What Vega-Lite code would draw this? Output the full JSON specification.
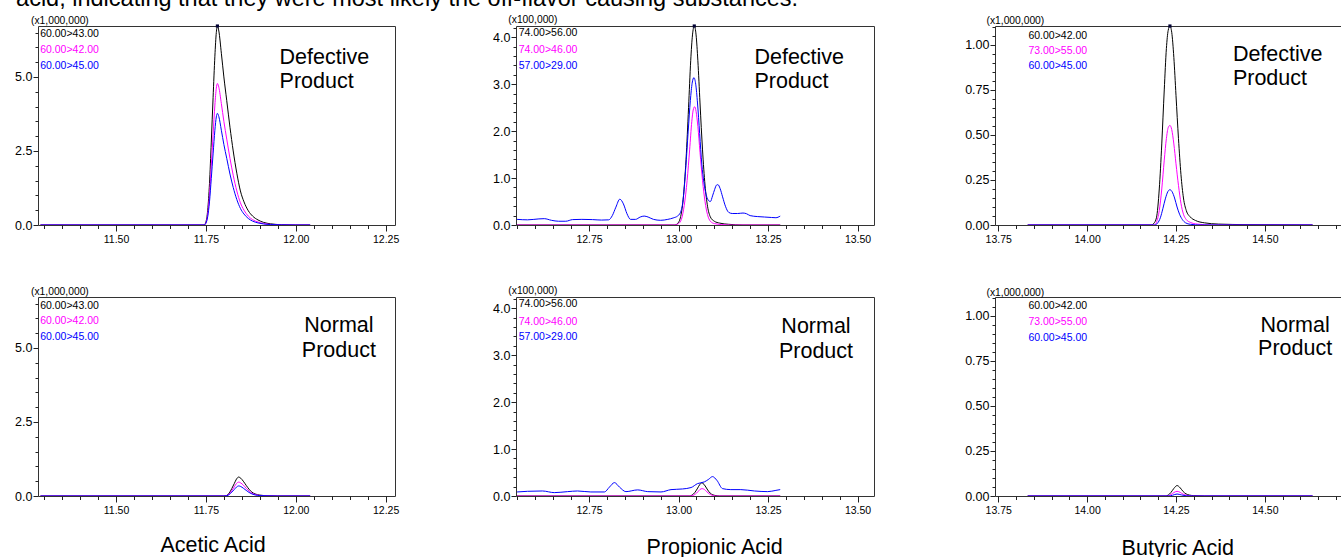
{
  "$schema": "https://vega.github.io/schema/vega-lite/v6.json",
  "autosize": {"type": "pad"},
  "padding": {"left": 14, "top": -14, "right": -11, "bottom": 0},
  "background": "white",
  "config": {
    "view": {"stroke": "#333333", "strokeWidth": 1},
    "axis": {"labelFont": "Liberation Sans, Arial, sans-serif", "labelColor": "#000000", "tickColor": "#222222", "domain": false, "grid": false, "labelOverlap": false, "labelFlush": false, "labelBound": false}
  },
  "columns": 3,
  "spacing": {"row": 72, "column": 121},
  "bounds": "flush",
  "datasets": {
    "chrom": [
      {"panel":"A1","ion":"k","t":11.29,"v":0},{"panel":"A1","ion":"k","t":11.5,"v":0},{"panel":"A1","ion":"k","t":11.745,"v":0},{"panel":"A1","ion":"k","t":11.75,"v":0.1},{"panel":"A1","ion":"k","t":11.755,"v":0.5},{"panel":"A1","ion":"k","t":11.76,"v":1.4},{"panel":"A1","ion":"k","t":11.765,"v":2.8},{"panel":"A1","ion":"k","t":11.77,"v":4.3},{"panel":"A1","ion":"k","t":11.775,"v":5.7},{"panel":"A1","ion":"k","t":11.779,"v":6.5},{"panel":"A1","ion":"k","t":11.782,"v":6.72},{"panel":"A1","ion":"k","t":11.786,"v":6.55},{"panel":"A1","ion":"k","t":11.793,"v":5.8},{"panel":"A1","ion":"k","t":11.8,"v":5.0},{"panel":"A1","ion":"k","t":11.808,"v":4.2},{"panel":"A1","ion":"k","t":11.817,"v":3.3},{"panel":"A1","ion":"k","t":11.826,"v":2.5},{"panel":"A1","ion":"k","t":11.836,"v":1.75},{"panel":"A1","ion":"k","t":11.846,"v":1.15},{"panel":"A1","ion":"k","t":11.856,"v":0.78},{"panel":"A1","ion":"k","t":11.868,"v":0.48},{"panel":"A1","ion":"k","t":11.88,"v":0.3},{"panel":"A1","ion":"k","t":11.895,"v":0.17},{"panel":"A1","ion":"k","t":11.91,"v":0.09},{"panel":"A1","ion":"k","t":11.93,"v":0.04},{"panel":"A1","ion":"k","t":11.96,"v":0.01},{"panel":"A1","ion":"k","t":12.0,"v":0},{"panel":"A1","ion":"k","t":12.04,"v":0},
      {"panel":"A1","ion":"m","t":11.29,"v":0},{"panel":"A1","ion":"m","t":11.5,"v":0},{"panel":"A1","ion":"m","t":11.745,"v":0},{"panel":"A1","ion":"m","t":11.75,"v":0.07},{"panel":"A1","ion":"m","t":11.755,"v":0.36},{"panel":"A1","ion":"m","t":11.76,"v":1.0},{"panel":"A1","ion":"m","t":11.765,"v":2.0},{"panel":"A1","ion":"m","t":11.77,"v":3.05},{"panel":"A1","ion":"m","t":11.775,"v":4.05},{"panel":"A1","ion":"m","t":11.779,"v":4.62},{"panel":"A1","ion":"m","t":11.782,"v":4.78},{"panel":"A1","ion":"m","t":11.786,"v":4.65},{"panel":"A1","ion":"m","t":11.793,"v":4.1},{"panel":"A1","ion":"m","t":11.8,"v":3.5},{"panel":"A1","ion":"m","t":11.808,"v":2.9},{"panel":"A1","ion":"m","t":11.817,"v":2.25},{"panel":"A1","ion":"m","t":11.826,"v":1.68},{"panel":"A1","ion":"m","t":11.836,"v":1.15},{"panel":"A1","ion":"m","t":11.846,"v":0.75},{"panel":"A1","ion":"m","t":11.856,"v":0.5},{"panel":"A1","ion":"m","t":11.868,"v":0.3},{"panel":"A1","ion":"m","t":11.88,"v":0.18},{"panel":"A1","ion":"m","t":11.895,"v":0.1},{"panel":"A1","ion":"m","t":11.91,"v":0.05},{"panel":"A1","ion":"m","t":11.93,"v":0.02},{"panel":"A1","ion":"m","t":11.96,"v":0.005},{"panel":"A1","ion":"m","t":12.0,"v":0},{"panel":"A1","ion":"m","t":12.04,"v":0},
      {"panel":"A1","ion":"b","t":11.29,"v":0},{"panel":"A1","ion":"b","t":11.5,"v":0},{"panel":"A1","ion":"b","t":11.745,"v":0},{"panel":"A1","ion":"b","t":11.75,"v":0.06},{"panel":"A1","ion":"b","t":11.755,"v":0.28},{"panel":"A1","ion":"b","t":11.76,"v":0.78},{"panel":"A1","ion":"b","t":11.765,"v":1.57},{"panel":"A1","ion":"b","t":11.77,"v":2.4},{"panel":"A1","ion":"b","t":11.775,"v":3.2},{"panel":"A1","ion":"b","t":11.779,"v":3.65},{"panel":"A1","ion":"b","t":11.782,"v":3.77},{"panel":"A1","ion":"b","t":11.786,"v":3.66},{"panel":"A1","ion":"b","t":11.793,"v":3.2},{"panel":"A1","ion":"b","t":11.8,"v":2.72},{"panel":"A1","ion":"b","t":11.808,"v":2.25},{"panel":"A1","ion":"b","t":11.817,"v":1.72},{"panel":"A1","ion":"b","t":11.826,"v":1.27},{"panel":"A1","ion":"b","t":11.836,"v":0.86},{"panel":"A1","ion":"b","t":11.846,"v":0.56},{"panel":"A1","ion":"b","t":11.856,"v":0.37},{"panel":"A1","ion":"b","t":11.868,"v":0.22},{"panel":"A1","ion":"b","t":11.88,"v":0.13},{"panel":"A1","ion":"b","t":11.895,"v":0.07},{"panel":"A1","ion":"b","t":11.91,"v":0.035},{"panel":"A1","ion":"b","t":11.93,"v":0.015},{"panel":"A1","ion":"b","t":11.96,"v":0.005},{"panel":"A1","ion":"b","t":12.0,"v":0},{"panel":"A1","ion":"b","t":12.04,"v":0},

      {"panel":"A2","ion":"k","t":11.29,"v":0},{"panel":"A2","ion":"k","t":11.5,"v":0},{"panel":"A2","ion":"k","t":11.8,"v":0},{"panel":"A2","ion":"k","t":11.808,"v":0.02},{"panel":"A2","ion":"k","t":11.815,"v":0.1},{"panel":"A2","ion":"k","t":11.822,"v":0.25},{"panel":"A2","ion":"k","t":11.829,"v":0.42},{"panel":"A2","ion":"k","t":11.835,"v":0.57},{"panel":"A2","ion":"k","t":11.841,"v":0.64},{"panel":"A2","ion":"k","t":11.847,"v":0.6},{"panel":"A2","ion":"k","t":11.854,"v":0.5},{"panel":"A2","ion":"k","t":11.862,"v":0.36},{"panel":"A2","ion":"k","t":11.87,"v":0.23},{"panel":"A2","ion":"k","t":11.878,"v":0.13},{"panel":"A2","ion":"k","t":11.887,"v":0.07},{"panel":"A2","ion":"k","t":11.9,"v":0.03},{"panel":"A2","ion":"k","t":11.92,"v":0.01},{"panel":"A2","ion":"k","t":11.95,"v":0},{"panel":"A2","ion":"k","t":12.04,"v":0},
      {"panel":"A2","ion":"m","t":11.29,"v":0},{"panel":"A2","ion":"m","t":11.5,"v":0},{"panel":"A2","ion":"m","t":11.8,"v":0},{"panel":"A2","ion":"m","t":11.808,"v":0.015},{"panel":"A2","ion":"m","t":11.815,"v":0.07},{"panel":"A2","ion":"m","t":11.822,"v":0.18},{"panel":"A2","ion":"m","t":11.829,"v":0.31},{"panel":"A2","ion":"m","t":11.835,"v":0.42},{"panel":"A2","ion":"m","t":11.841,"v":0.47},{"panel":"A2","ion":"m","t":11.847,"v":0.44},{"panel":"A2","ion":"m","t":11.854,"v":0.37},{"panel":"A2","ion":"m","t":11.862,"v":0.26},{"panel":"A2","ion":"m","t":11.87,"v":0.17},{"panel":"A2","ion":"m","t":11.878,"v":0.095},{"panel":"A2","ion":"m","t":11.887,"v":0.05},{"panel":"A2","ion":"m","t":11.9,"v":0.02},{"panel":"A2","ion":"m","t":11.92,"v":0.007},{"panel":"A2","ion":"m","t":11.95,"v":0},{"panel":"A2","ion":"m","t":12.04,"v":0},
      {"panel":"A2","ion":"b","t":11.29,"v":0},{"panel":"A2","ion":"b","t":11.5,"v":0},{"panel":"A2","ion":"b","t":11.8,"v":0},{"panel":"A2","ion":"b","t":11.808,"v":0.01},{"panel":"A2","ion":"b","t":11.815,"v":0.05},{"panel":"A2","ion":"b","t":11.822,"v":0.13},{"panel":"A2","ion":"b","t":11.829,"v":0.22},{"panel":"A2","ion":"b","t":11.835,"v":0.3},{"panel":"A2","ion":"b","t":11.841,"v":0.34},{"panel":"A2","ion":"b","t":11.847,"v":0.32},{"panel":"A2","ion":"b","t":11.854,"v":0.265},{"panel":"A2","ion":"b","t":11.862,"v":0.19},{"panel":"A2","ion":"b","t":11.87,"v":0.12},{"panel":"A2","ion":"b","t":11.878,"v":0.07},{"panel":"A2","ion":"b","t":11.887,"v":0.035},{"panel":"A2","ion":"b","t":11.9,"v":0.015},{"panel":"A2","ion":"b","t":11.92,"v":0.005},{"panel":"A2","ion":"b","t":11.95,"v":0},{"panel":"A2","ion":"b","t":12.04,"v":0},

      {"panel":"P1","ion":"k","t":12.549,"v":0},{"panel":"P1","ion":"k","t":12.8,"v":0},{"panel":"P1","ion":"k","t":12.99,"v":0},{"panel":"P1","ion":"k","t":12.997,"v":0.03},{"panel":"P1","ion":"k","t":13.005,"v":0.15},{"panel":"P1","ion":"k","t":13.013,"v":0.55},{"panel":"P1","ion":"k","t":13.021,"v":1.4},{"panel":"P1","ion":"k","t":13.028,"v":2.5},{"panel":"P1","ion":"k","t":13.034,"v":3.5},{"panel":"P1","ion":"k","t":13.039,"v":4.05},{"panel":"P1","ion":"k","t":13.044,"v":4.24},{"panel":"P1","ion":"k","t":13.049,"v":4.05},{"panel":"P1","ion":"k","t":13.054,"v":3.5},{"panel":"P1","ion":"k","t":13.06,"v":2.6},{"panel":"P1","ion":"k","t":13.067,"v":1.6},{"panel":"P1","ion":"k","t":13.074,"v":0.85},{"panel":"P1","ion":"k","t":13.081,"v":0.4},{"panel":"P1","ion":"k","t":13.089,"v":0.17},{"panel":"P1","ion":"k","t":13.1,"v":0.08},{"panel":"P1","ion":"k","t":13.115,"v":0.04},{"panel":"P1","ion":"k","t":13.14,"v":0.015},{"panel":"P1","ion":"k","t":13.18,"v":0},{"panel":"P1","ion":"k","t":13.284,"v":0},
      {"panel":"P1","ion":"m","t":12.549,"v":0},{"panel":"P1","ion":"m","t":12.8,"v":0},{"panel":"P1","ion":"m","t":12.99,"v":0},{"panel":"P1","ion":"m","t":13.0,"v":0.03},{"panel":"P1","ion":"m","t":13.008,"v":0.12},{"panel":"P1","ion":"m","t":13.016,"v":0.42},{"panel":"P1","ion":"m","t":13.024,"v":0.95},{"panel":"P1","ion":"m","t":13.031,"v":1.6},{"panel":"P1","ion":"m","t":13.037,"v":2.2},{"panel":"P1","ion":"m","t":13.041,"v":2.45},{"panel":"P1","ion":"m","t":13.045,"v":2.52},{"panel":"P1","ion":"m","t":13.049,"v":2.42},{"panel":"P1","ion":"m","t":13.054,"v":2.1},{"panel":"P1","ion":"m","t":13.06,"v":1.55},{"panel":"P1","ion":"m","t":13.067,"v":0.95},{"panel":"P1","ion":"m","t":13.074,"v":0.5},{"panel":"P1","ion":"m","t":13.081,"v":0.22},{"panel":"P1","ion":"m","t":13.089,"v":0.08},{"panel":"P1","ion":"m","t":13.1,"v":0.03},{"panel":"P1","ion":"m","t":13.12,"v":0.01},{"panel":"P1","ion":"m","t":13.15,"v":0},{"panel":"P1","ion":"m","t":13.284,"v":0},
      {"panel":"P1","ion":"b","t":12.549,"v":0.12},{"panel":"P1","ion":"b","t":12.578,"v":0.11},{"panel":"P1","ion":"b","t":12.61,"v":0.13},{"panel":"P1","ion":"b","t":12.625,"v":0.135},{"panel":"P1","ion":"b","t":12.645,"v":0.1},{"panel":"P1","ion":"b","t":12.665,"v":0.08},{"panel":"P1","ion":"b","t":12.685,"v":0.08},{"panel":"P1","ion":"b","t":12.704,"v":0.115},{"panel":"P1","ion":"b","t":12.73,"v":0.12},{"panel":"P1","ion":"b","t":12.76,"v":0.115},{"panel":"P1","ion":"b","t":12.785,"v":0.105},{"panel":"P1","ion":"b","t":12.805,"v":0.11},{"panel":"P1","ion":"b","t":12.815,"v":0.2},{"panel":"P1","ion":"b","t":12.825,"v":0.38},{"panel":"P1","ion":"b","t":12.836,"v":0.55},{"panel":"P1","ion":"b","t":12.846,"v":0.45},{"panel":"P1","ion":"b","t":12.856,"v":0.24},{"panel":"P1","ion":"b","t":12.866,"v":0.12},{"panel":"P1","ion":"b","t":12.88,"v":0.12},{"panel":"P1","ion":"b","t":12.893,"v":0.17},{"panel":"P1","ion":"b","t":12.904,"v":0.19},{"panel":"P1","ion":"b","t":12.915,"v":0.17},{"panel":"P1","ion":"b","t":12.93,"v":0.12},{"panel":"P1","ion":"b","t":12.95,"v":0.1},{"panel":"P1","ion":"b","t":12.97,"v":0.12},{"panel":"P1","ion":"b","t":12.985,"v":0.15},{"panel":"P1","ion":"b","t":12.997,"v":0.19},{"panel":"P1","ion":"b","t":13.005,"v":0.26},{"panel":"P1","ion":"b","t":13.013,"v":0.55},{"panel":"P1","ion":"b","t":13.02,"v":1.2},{"panel":"P1","ion":"b","t":13.027,"v":2.0},{"panel":"P1","ion":"b","t":13.033,"v":2.65},{"panel":"P1","ion":"b","t":13.038,"v":3.02},{"panel":"P1","ion":"b","t":13.043,"v":3.14},{"panel":"P1","ion":"b","t":13.048,"v":3.0},{"panel":"P1","ion":"b","t":13.053,"v":2.6},{"panel":"P1","ion":"b","t":13.059,"v":1.95},{"panel":"P1","ion":"b","t":13.065,"v":1.3},{"panel":"P1","ion":"b","t":13.071,"v":0.9},{"panel":"P1","ion":"b","t":13.078,"v":0.62},{"panel":"P1","ion":"b","t":13.084,"v":0.52},{"panel":"P1","ion":"b","t":13.089,"v":0.5},{"panel":"P1","ion":"b","t":13.095,"v":0.62},{"panel":"P1","ion":"b","t":13.101,"v":0.76},{"panel":"P1","ion":"b","t":13.106,"v":0.85},{"panel":"P1","ion":"b","t":13.11,"v":0.86},{"panel":"P1","ion":"b","t":13.116,"v":0.78},{"panel":"P1","ion":"b","t":13.123,"v":0.6},{"panel":"P1","ion":"b","t":13.131,"v":0.4},{"panel":"P1","ion":"b","t":13.14,"v":0.27},{"panel":"P1","ion":"b","t":13.15,"v":0.245},{"panel":"P1","ion":"b","t":13.165,"v":0.245},{"panel":"P1","ion":"b","t":13.18,"v":0.255},{"panel":"P1","ion":"b","t":13.19,"v":0.24},{"panel":"P1","ion":"b","t":13.2,"v":0.2},{"panel":"P1","ion":"b","t":13.22,"v":0.18},{"panel":"P1","ion":"b","t":13.24,"v":0.17},{"panel":"P1","ion":"b","t":13.26,"v":0.16},{"panel":"P1","ion":"b","t":13.272,"v":0.155},{"panel":"P1","ion":"b","t":13.284,"v":0.19},

      {"panel":"P2","ion":"k","t":12.549,"v":0},{"panel":"P2","ion":"k","t":13.03,"v":0},{"panel":"P2","ion":"k","t":13.038,"v":0.02},{"panel":"P2","ion":"k","t":13.045,"v":0.07},{"panel":"P2","ion":"k","t":13.052,"v":0.15},{"panel":"P2","ion":"k","t":13.059,"v":0.24},{"panel":"P2","ion":"k","t":13.065,"v":0.28},{"panel":"P2","ion":"k","t":13.071,"v":0.25},{"panel":"P2","ion":"k","t":13.078,"v":0.17},{"panel":"P2","ion":"k","t":13.085,"v":0.09},{"panel":"P2","ion":"k","t":13.092,"v":0.04},{"panel":"P2","ion":"k","t":13.1,"v":0.015},{"panel":"P2","ion":"k","t":13.115,"v":0},{"panel":"P2","ion":"k","t":13.284,"v":0},
      {"panel":"P2","ion":"m","t":12.549,"v":0},{"panel":"P2","ion":"m","t":13.03,"v":0},{"panel":"P2","ion":"m","t":13.04,"v":0.01},{"panel":"P2","ion":"m","t":13.047,"v":0.04},{"panel":"P2","ion":"m","t":13.054,"v":0.09},{"panel":"P2","ion":"m","t":13.06,"v":0.14},{"panel":"P2","ion":"m","t":13.066,"v":0.157},{"panel":"P2","ion":"m","t":13.072,"v":0.14},{"panel":"P2","ion":"m","t":13.079,"v":0.09},{"panel":"P2","ion":"m","t":13.086,"v":0.045},{"panel":"P2","ion":"m","t":13.094,"v":0.015},{"panel":"P2","ion":"m","t":13.105,"v":0},{"panel":"P2","ion":"m","t":13.284,"v":0},
      {"panel":"P2","ion":"b","t":12.549,"v":0.086},{"panel":"P2","ion":"b","t":12.578,"v":0.1},{"panel":"P2","ion":"b","t":12.62,"v":0.107},{"panel":"P2","ion":"b","t":12.653,"v":0.072},{"panel":"P2","ion":"b","t":12.69,"v":0.093},{"panel":"P2","ion":"b","t":12.718,"v":0.107},{"panel":"P2","ion":"b","t":12.755,"v":0.086},{"panel":"P2","ion":"b","t":12.793,"v":0.086},{"panel":"P2","ion":"b","t":12.807,"v":0.19},{"panel":"P2","ion":"b","t":12.821,"v":0.285},{"panel":"P2","ion":"b","t":12.835,"v":0.19},{"panel":"P2","ion":"b","t":12.853,"v":0.093},{"panel":"P2","ion":"b","t":12.886,"v":0.13},{"panel":"P2","ion":"b","t":12.914,"v":0.093},{"panel":"P2","ion":"b","t":12.951,"v":0.086},{"panel":"P2","ion":"b","t":12.979,"v":0.136},{"panel":"P2","ion":"b","t":13.011,"v":0.15},{"panel":"P2","ion":"b","t":13.035,"v":0.18},{"panel":"P2","ion":"b","t":13.053,"v":0.264},{"panel":"P2","ion":"b","t":13.072,"v":0.3},{"panel":"P2","ion":"b","t":13.083,"v":0.35},{"panel":"P2","ion":"b","t":13.095,"v":0.413},{"panel":"P2","ion":"b","t":13.107,"v":0.335},{"panel":"P2","ion":"b","t":13.123,"v":0.157},{"panel":"P2","ion":"b","t":13.146,"v":0.136},{"panel":"P2","ion":"b","t":13.174,"v":0.136},{"panel":"P2","ion":"b","t":13.212,"v":0.107},{"panel":"P2","ion":"b","t":13.249,"v":0.093},{"panel":"P2","ion":"b","t":13.272,"v":0.12},{"panel":"P2","ion":"b","t":13.284,"v":0.136},

      {"panel":"B1","ion":"k","t":13.833,"v":0},{"panel":"B1","ion":"k","t":14.18,"v":0},{"panel":"B1","ion":"k","t":14.188,"v":0.01},{"panel":"B1","ion":"k","t":14.195,"v":0.04},{"panel":"B1","ion":"k","t":14.203,"v":0.2},{"panel":"B1","ion":"k","t":14.21,"v":0.45},{"panel":"B1","ion":"k","t":14.217,"v":0.75},{"panel":"B1","ion":"k","t":14.223,"v":0.98},{"panel":"B1","ion":"k","t":14.228,"v":1.08},{"panel":"B1","ion":"k","t":14.233,"v":1.105},{"panel":"B1","ion":"k","t":14.238,"v":1.07},{"panel":"B1","ion":"k","t":14.244,"v":0.93},{"panel":"B1","ion":"k","t":14.25,"v":0.72},{"panel":"B1","ion":"k","t":14.257,"v":0.48},{"panel":"B1","ion":"k","t":14.264,"v":0.28},{"panel":"B1","ion":"k","t":14.271,"v":0.15},{"panel":"B1","ion":"k","t":14.279,"v":0.08},{"panel":"B1","ion":"k","t":14.29,"v":0.045},{"panel":"B1","ion":"k","t":14.305,"v":0.025},{"panel":"B1","ion":"k","t":14.33,"v":0.012},{"panel":"B1","ion":"k","t":14.37,"v":0.005},{"panel":"B1","ion":"k","t":14.45,"v":0.002},{"panel":"B1","ion":"k","t":14.634,"v":0},
      {"panel":"B1","ion":"m","t":13.833,"v":0},{"panel":"B1","ion":"m","t":14.19,"v":0},{"panel":"B1","ion":"m","t":14.195,"v":0.015},{"panel":"B1","ion":"m","t":14.203,"v":0.08},{"panel":"B1","ion":"m","t":14.21,"v":0.2},{"panel":"B1","ion":"m","t":14.217,"v":0.36},{"panel":"B1","ion":"m","t":14.223,"v":0.48},{"panel":"B1","ion":"m","t":14.228,"v":0.54},{"panel":"B1","ion":"m","t":14.233,"v":0.553},{"panel":"B1","ion":"m","t":14.238,"v":0.53},{"panel":"B1","ion":"m","t":14.244,"v":0.45},{"panel":"B1","ion":"m","t":14.25,"v":0.34},{"panel":"B1","ion":"m","t":14.257,"v":0.22},{"panel":"B1","ion":"m","t":14.264,"v":0.12},{"panel":"B1","ion":"m","t":14.271,"v":0.06},{"panel":"B1","ion":"m","t":14.279,"v":0.03},{"panel":"B1","ion":"m","t":14.29,"v":0.015},{"panel":"B1","ion":"m","t":14.31,"v":0.005},{"panel":"B1","ion":"m","t":14.35,"v":0},{"panel":"B1","ion":"m","t":14.634,"v":0},
      {"panel":"B1","ion":"b","t":13.833,"v":0},{"panel":"B1","ion":"b","t":14.19,"v":0},{"panel":"B1","ion":"b","t":14.198,"v":0.01},{"panel":"B1","ion":"b","t":14.206,"v":0.04},{"panel":"B1","ion":"b","t":14.213,"v":0.09},{"panel":"B1","ion":"b","t":14.22,"v":0.145},{"panel":"B1","ion":"b","t":14.227,"v":0.185},{"panel":"B1","ion":"b","t":14.233,"v":0.196},{"panel":"B1","ion":"b","t":14.239,"v":0.185},{"panel":"B1","ion":"b","t":14.246,"v":0.15},{"panel":"B1","ion":"b","t":14.253,"v":0.1},{"panel":"B1","ion":"b","t":14.26,"v":0.06},{"panel":"B1","ion":"b","t":14.268,"v":0.03},{"panel":"B1","ion":"b","t":14.277,"v":0.012},{"panel":"B1","ion":"b","t":14.29,"v":0.004},{"panel":"B1","ion":"b","t":14.32,"v":0},{"panel":"B1","ion":"b","t":14.634,"v":0},

      {"panel":"B2","ion":"k","t":13.833,"v":0},{"panel":"B2","ion":"k","t":14.22,"v":0},{"panel":"B2","ion":"k","t":14.228,"v":0.005},{"panel":"B2","ion":"k","t":14.236,"v":0.02},{"panel":"B2","ion":"k","t":14.244,"v":0.042},{"panel":"B2","ion":"k","t":14.253,"v":0.058},{"panel":"B2","ion":"k","t":14.262,"v":0.045},{"panel":"B2","ion":"k","t":14.27,"v":0.025},{"panel":"B2","ion":"k","t":14.278,"v":0.012},{"panel":"B2","ion":"k","t":14.288,"v":0.005},{"panel":"B2","ion":"k","t":14.3,"v":0.002},{"panel":"B2","ion":"k","t":14.33,"v":0},{"panel":"B2","ion":"k","t":14.634,"v":0},
      {"panel":"B2","ion":"m","t":13.833,"v":0},{"panel":"B2","ion":"m","t":14.226,"v":0},{"panel":"B2","ion":"m","t":14.236,"v":0.008},{"panel":"B2","ion":"m","t":14.244,"v":0.019},{"panel":"B2","ion":"m","t":14.253,"v":0.026},{"panel":"B2","ion":"m","t":14.262,"v":0.02},{"panel":"B2","ion":"m","t":14.27,"v":0.01},{"panel":"B2","ion":"m","t":14.28,"v":0.004},{"panel":"B2","ion":"m","t":14.3,"v":0},{"panel":"B2","ion":"m","t":14.634,"v":0},
      {"panel":"B2","ion":"b","t":13.833,"v":0},{"panel":"B2","ion":"b","t":14.23,"v":0},{"panel":"B2","ion":"b","t":14.24,"v":0.004},{"panel":"B2","ion":"b","t":14.253,"v":0.011},{"panel":"B2","ion":"b","t":14.265,"v":0.006},{"panel":"B2","ion":"b","t":14.28,"v":0.001},{"panel":"B2","ion":"b","t":14.3,"v":0},{"panel":"B2","ion":"b","t":14.634,"v":0}
    ]
  },
  "concat": [
    {
      "width": 357, "height": 199,
      "resolve": {"axis": {"x": "independent", "y": "independent"}},
      "layer": [
        {"data": {"name": "chrom"}, "transform": [{"filter": "datum.panel === 'A1'"}],
         "mark": {"type": "line", "strokeWidth": 1, "interpolate": "monotone", "clip": true},
         "encoding": {
           "x": {"field": "t", "type": "quantitative", "scale": {"domain": [11.283, 12.276], "nice": false, "zero": false},
                 "axis": {"title": null, "values": [11.3,11.35,11.4,11.45,11.5,11.55,11.6,11.65,11.7,11.75,11.8,11.85,11.9,11.95,12.0,12.05,12.1,12.15,12.2,12.25], "labelExpr": "abs(datum.value*4-round(datum.value*4))<0.01 ? format(datum.value,'.2f') : ''", "tickSize": {"condition": {"test": "abs(datum.value*4-round(datum.value*4))<0.01", "value": 6}, "value": 3.5}, "labelFontSize": 10.5, "labelPadding": 3}},
           "y": {"field": "v", "type": "quantitative", "scale": {"domain": [0, 6.72], "nice": false},
                 "axis": {"title": null, "values": [0,0.5,1,1.5,2,2.5,3,3.5,4,4.5,5,5.5,6,6.5], "labelExpr": "abs(datum.value/2.5-round(datum.value/2.5))<0.01 ? format(datum.value,'.1f') : ''", "tickSize": {"condition": {"test": "abs(datum.value/2.5-round(datum.value/2.5))<0.01", "value": 5}, "value": 3}, "labelFontSize": 12.5, "labelPadding": 1}},
           "color": {"field": "ion", "type": "nominal", "scale": {"domain": ["k","m","b"], "range": ["#000000","#ff00ff","#0000ff"]}, "legend": null}
         }},
        {"data": {"values": [{"label": "acid, indicating that they were most likely the off-flavor causing substances."}]}, "mark": {"type": "text", "align": "left", "baseline": "alphabetic", "font": "Liberation Sans, Arial, sans-serif", "fontSize": 23.5, "color": "#000000"}, "encoding": {"x": {"datum": 11.222, "type": "quantitative", "axis": null}, "y": {"datum": 7.38, "type": "quantitative", "axis": null}, "text": {"field": "label"}}},
        {"data": {"values": [{"label": "(x1,000,000)"}]}, "mark": {"type": "text", "align": "left", "baseline": "middle", "font": "Liberation Sans, Arial, sans-serif", "fontSize": 10.3, "color": "#000000"}, "encoding": {"x": {"datum": 11.2635, "type": "quantitative", "axis": null}, "y": {"datum": 6.88, "type": "quantitative", "axis": null}, "text": {"field": "label"}}},
        {"data": {"values": [{"label": "60.00>43.00"}]}, "mark": {"type": "text", "align": "left", "baseline": "middle", "font": "Liberation Sans, Arial, sans-serif", "fontSize": 10.5, "color": "#000000"}, "encoding": {"x": {"datum": 11.289, "type": "quantitative", "axis": null}, "y": {"datum": 6.45, "type": "quantitative", "axis": null}, "text": {"field": "label"}}},
        {"data": {"values": [{"label": "60.00>42.00"}]}, "mark": {"type": "text", "align": "left", "baseline": "middle", "font": "Liberation Sans, Arial, sans-serif", "fontSize": 10.5, "color": "#ff00ff"}, "encoding": {"x": {"datum": 11.289, "type": "quantitative", "axis": null}, "y": {"datum": 5.9, "type": "quantitative", "axis": null}, "text": {"field": "label"}}},
        {"data": {"values": [{"label": "60.00>45.00"}]}, "mark": {"type": "text", "align": "left", "baseline": "middle", "font": "Liberation Sans, Arial, sans-serif", "fontSize": 10.5, "color": "#0000ff"}, "encoding": {"x": {"datum": 11.289, "type": "quantitative", "axis": null}, "y": {"datum": 5.38, "type": "quantitative", "axis": null}, "text": {"field": "label"}}},
        {"data": {"values": [{"label": ["Defective", "Product"]}]}, "mark": {"type": "text", "align": "left", "baseline": "alphabetic", "font": "Liberation Sans, Arial, sans-serif", "fontSize": 21.5, "lineHeight": 24, "color": "#000000"}, "encoding": {"x": {"datum": 11.955, "type": "quantitative", "axis": null}, "y": {"datum": 5.43, "type": "quantitative", "axis": null}, "text": {"field": "label"}}},
        {"data": {"values": [{"label": "peak"}]}, "mark": {"type": "point", "shape": "square", "size": 10, "filled": true, "color": "#000033", "opacity": 1}, "encoding": {"x": {"datum": 11.782, "type": "quantitative", "axis": null}, "y": {"datum": 6.72, "type": "quantitative", "axis": null}}}
      ]
    },
    {
      "width": 358, "height": 199,
      "resolve": {"axis": {"x": "independent", "y": "independent"}},
      "layer": [
        {"data": {"name": "chrom"}, "transform": [{"filter": "datum.panel === 'P1'"}],
         "mark": {"type": "line", "strokeWidth": 1, "interpolate": "monotone", "clip": true},
         "encoding": {
           "x": {"field": "t", "type": "quantitative", "scale": {"domain": [12.546, 13.546], "nice": false, "zero": false},
                 "axis": {"title": null, "values": [12.55,12.6,12.65,12.7,12.75,12.8,12.85,12.9,12.95,13.0,13.05,13.1,13.15,13.2,13.25,13.3,13.35,13.4,13.45,13.5], "labelExpr": "abs(datum.value*4-round(datum.value*4))<0.01 ? format(datum.value,'.2f') : ''", "tickSize": {"condition": {"test": "abs(datum.value*4-round(datum.value*4))<0.01", "value": 6}, "value": 3.5}, "labelFontSize": 10.5, "labelPadding": 3}},
           "y": {"field": "v", "type": "quantitative", "scale": {"domain": [0, 4.24], "nice": false},
                 "axis": {"title": null, "values": [0,0.2,0.4,0.6,0.8,1,1.2,1.4,1.6,1.8,2,2.2,2.4,2.6,2.8,3,3.2,3.4,3.6,3.8,4,4.2], "labelExpr": "abs(datum.value-round(datum.value))<0.01 ? format(datum.value,'.1f') : ''", "tickSize": {"condition": {"test": "abs(datum.value-round(datum.value))<0.01", "value": 5}, "value": 3}, "labelFontSize": 12.5, "labelPadding": 1}},
           "color": {"field": "ion", "type": "nominal", "scale": {"domain": ["k","m","b"], "range": ["#000000","#ff00ff","#0000ff"]}, "legend": null}
         }},
        {"data": {"values": [{"label": "(x100,000)"}]}, "mark": {"type": "text", "align": "left", "baseline": "middle", "font": "Liberation Sans, Arial, sans-serif", "fontSize": 10.3, "color": "#000000"}, "encoding": {"x": {"datum": 12.5245, "type": "quantitative", "axis": null}, "y": {"datum": 4.36, "type": "quantitative", "axis": null}, "text": {"field": "label"}}},
        {"data": {"values": [{"label": "74.00>56.00"}]}, "mark": {"type": "text", "align": "left", "baseline": "middle", "font": "Liberation Sans, Arial, sans-serif", "fontSize": 10.5, "color": "#000000"}, "encoding": {"x": {"datum": 12.5535, "type": "quantitative", "axis": null}, "y": {"datum": 4.1, "type": "quantitative", "axis": null}, "text": {"field": "label"}}},
        {"data": {"values": [{"label": "74.00>46.00"}]}, "mark": {"type": "text", "align": "left", "baseline": "middle", "font": "Liberation Sans, Arial, sans-serif", "fontSize": 10.5, "color": "#ff00ff"}, "encoding": {"x": {"datum": 12.5535, "type": "quantitative", "axis": null}, "y": {"datum": 3.73, "type": "quantitative", "axis": null}, "text": {"field": "label"}}},
        {"data": {"values": [{"label": "57.00>29.00"}]}, "mark": {"type": "text", "align": "left", "baseline": "middle", "font": "Liberation Sans, Arial, sans-serif", "fontSize": 10.5, "color": "#0000ff"}, "encoding": {"x": {"datum": 12.5535, "type": "quantitative", "axis": null}, "y": {"datum": 3.39, "type": "quantitative", "axis": null}, "text": {"field": "label"}}},
        {"data": {"values": [{"label": ["Defective", "Product"]}]}, "mark": {"type": "text", "align": "left", "baseline": "alphabetic", "font": "Liberation Sans, Arial, sans-serif", "fontSize": 21.5, "lineHeight": 24, "color": "#000000"}, "encoding": {"x": {"datum": 13.212, "type": "quantitative", "axis": null}, "y": {"datum": 3.44, "type": "quantitative", "axis": null}, "text": {"field": "label"}}},
        {"data": {"values": [{"label": "peak"}]}, "mark": {"type": "point", "shape": "square", "size": 10, "filled": true, "color": "#000033", "opacity": 1}, "encoding": {"x": {"datum": 13.044, "type": "quantitative", "axis": null}, "y": {"datum": 4.24, "type": "quantitative", "axis": null}}}
      ]
    },
    {
      "width": 357, "height": 199,
      "resolve": {"axis": {"x": "independent", "y": "independent"}},
      "layer": [
        {"data": {"name": "chrom"}, "transform": [{"filter": "datum.panel === 'B1'"}],
         "mark": {"type": "line", "strokeWidth": 1, "interpolate": "monotone", "clip": true},
         "encoding": {
           "x": {"field": "t", "type": "quantitative", "scale": {"domain": [13.741, 14.745], "nice": false, "zero": false},
                 "axis": {"title": null, "values": [13.75,13.8,13.85,13.9,13.95,14.0,14.05,14.1,14.15,14.2,14.25,14.3,14.35,14.4,14.45,14.5,14.55,14.6,14.65,14.7], "labelExpr": "abs(datum.value*4-round(datum.value*4))<0.01 ? format(datum.value,'.2f') : ''", "tickSize": {"condition": {"test": "abs(datum.value*4-round(datum.value*4))<0.01", "value": 6}, "value": 3.5}, "labelFontSize": 10.5, "labelPadding": 3}},
           "y": {"field": "v", "type": "quantitative", "scale": {"domain": [0, 1.105], "nice": false},
                 "axis": {"title": null, "values": [0,0.05,0.1,0.15,0.2,0.25,0.3,0.35,0.4,0.45,0.5,0.55,0.6,0.65,0.7,0.75,0.8,0.85,0.9,0.95,1.0,1.05,1.1], "labelExpr": "abs(datum.value*4-round(datum.value*4))<0.01 ? format(datum.value,'.2f') : ''", "tickSize": {"condition": {"test": "abs(datum.value*4-round(datum.value*4))<0.01", "value": 5}, "value": 3}, "labelFontSize": 12.5, "labelPadding": 1}},
           "color": {"field": "ion", "type": "nominal", "scale": {"domain": ["k","m","b"], "range": ["#000000","#ff00ff","#0000ff"]}, "legend": null}
         }},
        {"data": {"values": [{"label": "(x1,000,000)"}]}, "mark": {"type": "text", "align": "left", "baseline": "middle", "font": "Liberation Sans, Arial, sans-serif", "fontSize": 10.3, "color": "#000000"}, "encoding": {"x": {"datum": 13.717, "type": "quantitative", "axis": null}, "y": {"datum": 1.132, "type": "quantitative", "axis": null}, "text": {"field": "label"}}},
        {"data": {"values": [{"label": "60.00>42.00"}]}, "mark": {"type": "text", "align": "left", "baseline": "middle", "font": "Liberation Sans, Arial, sans-serif", "fontSize": 10.5, "color": "#000000"}, "encoding": {"x": {"datum": 13.835, "type": "quantitative", "axis": null}, "y": {"datum": 1.049, "type": "quantitative", "axis": null}, "text": {"field": "label"}}},
        {"data": {"values": [{"label": "73.00>55.00"}]}, "mark": {"type": "text", "align": "left", "baseline": "middle", "font": "Liberation Sans, Arial, sans-serif", "fontSize": 10.5, "color": "#ff00ff"}, "encoding": {"x": {"datum": 13.835, "type": "quantitative", "axis": null}, "y": {"datum": 0.968, "type": "quantitative", "axis": null}, "text": {"field": "label"}}},
        {"data": {"values": [{"label": "60.00>45.00"}]}, "mark": {"type": "text", "align": "left", "baseline": "middle", "font": "Liberation Sans, Arial, sans-serif", "fontSize": 10.5, "color": "#0000ff"}, "encoding": {"x": {"datum": 13.835, "type": "quantitative", "axis": null}, "y": {"datum": 0.881, "type": "quantitative", "axis": null}, "text": {"field": "label"}}},
        {"data": {"values": [{"label": ["Defective", "Product"]}]}, "mark": {"type": "text", "align": "left", "baseline": "alphabetic", "font": "Liberation Sans, Arial, sans-serif", "fontSize": 21.5, "lineHeight": 24, "color": "#000000"}, "encoding": {"x": {"datum": 14.41, "type": "quantitative", "axis": null}, "y": {"datum": 0.91, "type": "quantitative", "axis": null}, "text": {"field": "label"}}},
        {"data": {"values": [{"label": "peak"}]}, "mark": {"type": "point", "shape": "square", "size": 10, "filled": true, "color": "#000033", "opacity": 1}, "encoding": {"x": {"datum": 14.233, "type": "quantitative", "axis": null}, "y": {"datum": 1.105, "type": "quantitative", "axis": null}}}
      ]
    },
    {
      "width": 357, "height": 199,
      "resolve": {"axis": {"x": "independent", "y": "independent"}},
      "layer": [
        {"data": {"name": "chrom"}, "transform": [{"filter": "datum.panel === 'A2'"}],
         "mark": {"type": "line", "strokeWidth": 1, "interpolate": "monotone", "clip": true},
         "encoding": {
           "x": {"field": "t", "type": "quantitative", "scale": {"domain": [11.283, 12.276], "nice": false, "zero": false},
                 "axis": {"title": null, "values": [11.3,11.35,11.4,11.45,11.5,11.55,11.6,11.65,11.7,11.75,11.8,11.85,11.9,11.95,12.0,12.05,12.1,12.15,12.2,12.25], "labelExpr": "abs(datum.value*4-round(datum.value*4))<0.01 ? format(datum.value,'.2f') : ''", "tickSize": {"condition": {"test": "abs(datum.value*4-round(datum.value*4))<0.01", "value": 6}, "value": 3.5}, "labelFontSize": 10.5, "labelPadding": 3}},
           "y": {"field": "v", "type": "quantitative", "scale": {"domain": [0, 6.72], "nice": false},
                 "axis": {"title": null, "values": [0,0.5,1,1.5,2,2.5,3,3.5,4,4.5,5,5.5,6,6.5], "labelExpr": "abs(datum.value/2.5-round(datum.value/2.5))<0.01 ? format(datum.value,'.1f') : ''", "tickSize": {"condition": {"test": "abs(datum.value/2.5-round(datum.value/2.5))<0.01", "value": 5}, "value": 3}, "labelFontSize": 12.5, "labelPadding": 1}},
           "color": {"field": "ion", "type": "nominal", "scale": {"domain": ["k","m","b"], "range": ["#000000","#ff00ff","#0000ff"]}, "legend": null}
         }},
        {"data": {"values": [{"label": "(x1,000,000)"}]}, "mark": {"type": "text", "align": "left", "baseline": "middle", "font": "Liberation Sans, Arial, sans-serif", "fontSize": 10.3, "color": "#000000"}, "encoding": {"x": {"datum": 11.2635, "type": "quantitative", "axis": null}, "y": {"datum": 6.89, "type": "quantitative", "axis": null}, "text": {"field": "label"}}},
        {"data": {"values": [{"label": "60.00>43.00"}]}, "mark": {"type": "text", "align": "left", "baseline": "middle", "font": "Liberation Sans, Arial, sans-serif", "fontSize": 10.5, "color": "#000000"}, "encoding": {"x": {"datum": 11.289, "type": "quantitative", "axis": null}, "y": {"datum": 6.41, "type": "quantitative", "axis": null}, "text": {"field": "label"}}},
        {"data": {"values": [{"label": "60.00>42.00"}]}, "mark": {"type": "text", "align": "left", "baseline": "middle", "font": "Liberation Sans, Arial, sans-serif", "fontSize": 10.5, "color": "#ff00ff"}, "encoding": {"x": {"datum": 11.289, "type": "quantitative", "axis": null}, "y": {"datum": 5.91, "type": "quantitative", "axis": null}, "text": {"field": "label"}}},
        {"data": {"values": [{"label": "60.00>45.00"}]}, "mark": {"type": "text", "align": "left", "baseline": "middle", "font": "Liberation Sans, Arial, sans-serif", "fontSize": 10.5, "color": "#0000ff"}, "encoding": {"x": {"datum": 11.289, "type": "quantitative", "axis": null}, "y": {"datum": 5.37, "type": "quantitative", "axis": null}, "text": {"field": "label"}}},
        {"data": {"values": [{"label": ["Normal", "Product"]}]}, "mark": {"type": "text", "align": "center", "baseline": "alphabetic", "font": "Liberation Sans, Arial, sans-serif", "fontSize": 21.5, "lineHeight": 25, "color": "#000000"}, "encoding": {"x": {"datum": 12.12, "type": "quantitative", "axis": null}, "y": {"datum": 5.55, "type": "quantitative", "axis": null}, "text": {"field": "label"}}},
        {"data": {"values": [{"label": "Acetic Acid"}]}, "mark": {"type": "text", "align": "center", "baseline": "alphabetic", "font": "Liberation Sans, Arial, sans-serif", "fontSize": 21.5, "color": "#000000"}, "encoding": {"x": {"datum": 11.77, "type": "quantitative", "axis": null}, "y": {"datum": -1.88, "type": "quantitative", "axis": null}, "text": {"field": "label"}}}
      ]
    },
    {
      "width": 358, "height": 199,
      "resolve": {"axis": {"x": "independent", "y": "independent"}},
      "layer": [
        {"data": {"name": "chrom"}, "transform": [{"filter": "datum.panel === 'P2'"}],
         "mark": {"type": "line", "strokeWidth": 1, "interpolate": "monotone", "clip": true},
         "encoding": {
           "x": {"field": "t", "type": "quantitative", "scale": {"domain": [12.546, 13.546], "nice": false, "zero": false},
                 "axis": {"title": null, "values": [12.55,12.6,12.65,12.7,12.75,12.8,12.85,12.9,12.95,13.0,13.05,13.1,13.15,13.2,13.25,13.3,13.35,13.4,13.45,13.5], "labelExpr": "abs(datum.value*4-round(datum.value*4))<0.01 ? format(datum.value,'.2f') : ''", "tickSize": {"condition": {"test": "abs(datum.value*4-round(datum.value*4))<0.01", "value": 6}, "value": 3.5}, "labelFontSize": 10.5, "labelPadding": 3}},
           "y": {"field": "v", "type": "quantitative", "scale": {"domain": [0, 4.24], "nice": false},
                 "axis": {"title": null, "values": [0,0.2,0.4,0.6,0.8,1,1.2,1.4,1.6,1.8,2,2.2,2.4,2.6,2.8,3,3.2,3.4,3.6,3.8,4,4.2], "labelExpr": "abs(datum.value-round(datum.value))<0.01 ? format(datum.value,'.1f') : ''", "tickSize": {"condition": {"test": "abs(datum.value-round(datum.value))<0.01", "value": 5}, "value": 3}, "labelFontSize": 12.5, "labelPadding": 1}},
           "color": {"field": "ion", "type": "nominal", "scale": {"domain": ["k","m","b"], "range": ["#000000","#ff00ff","#0000ff"]}, "legend": null}
         }},
        {"data": {"values": [{"label": "(x100,000)"}]}, "mark": {"type": "text", "align": "left", "baseline": "middle", "font": "Liberation Sans, Arial, sans-serif", "fontSize": 10.3, "color": "#000000"}, "encoding": {"x": {"datum": 12.5245, "type": "quantitative", "axis": null}, "y": {"datum": 4.36, "type": "quantitative", "axis": null}, "text": {"field": "label"}}},
        {"data": {"values": [{"label": "74.00>56.00"}]}, "mark": {"type": "text", "align": "left", "baseline": "middle", "font": "Liberation Sans, Arial, sans-serif", "fontSize": 10.5, "color": "#000000"}, "encoding": {"x": {"datum": 12.5535, "type": "quantitative", "axis": null}, "y": {"datum": 4.1, "type": "quantitative", "axis": null}, "text": {"field": "label"}}},
        {"data": {"values": [{"label": "74.00>46.00"}]}, "mark": {"type": "text", "align": "left", "baseline": "middle", "font": "Liberation Sans, Arial, sans-serif", "fontSize": 10.5, "color": "#ff00ff"}, "encoding": {"x": {"datum": 12.5535, "type": "quantitative", "axis": null}, "y": {"datum": 3.71, "type": "quantitative", "axis": null}, "text": {"field": "label"}}},
        {"data": {"values": [{"label": "57.00>29.00"}]}, "mark": {"type": "text", "align": "left", "baseline": "middle", "font": "Liberation Sans, Arial, sans-serif", "fontSize": 10.5, "color": "#0000ff"}, "encoding": {"x": {"datum": 12.5535, "type": "quantitative", "axis": null}, "y": {"datum": 3.39, "type": "quantitative", "axis": null}, "text": {"field": "label"}}},
        {"data": {"values": [{"label": ["Normal", "Product"]}]}, "mark": {"type": "text", "align": "center", "baseline": "alphabetic", "font": "Liberation Sans, Arial, sans-serif", "fontSize": 21.5, "lineHeight": 25, "color": "#000000"}, "encoding": {"x": {"datum": 13.384, "type": "quantitative", "axis": null}, "y": {"datum": 3.47, "type": "quantitative", "axis": null}, "text": {"field": "label"}}},
        {"data": {"values": [{"label": "Propionic Acid"}]}, "mark": {"type": "text", "align": "center", "baseline": "alphabetic", "font": "Liberation Sans, Arial, sans-serif", "fontSize": 21.5, "color": "#000000"}, "encoding": {"x": {"datum": 13.101, "type": "quantitative", "axis": null}, "y": {"datum": -1.228, "type": "quantitative", "axis": null}, "text": {"field": "label"}}}
      ]
    },
    {
      "width": 357, "height": 199,
      "resolve": {"axis": {"x": "independent", "y": "independent"}},
      "layer": [
        {"data": {"name": "chrom"}, "transform": [{"filter": "datum.panel === 'B2'"}],
         "mark": {"type": "line", "strokeWidth": 1, "interpolate": "monotone", "clip": true},
         "encoding": {
           "x": {"field": "t", "type": "quantitative", "scale": {"domain": [13.741, 14.745], "nice": false, "zero": false},
                 "axis": {"title": null, "values": [13.75,13.8,13.85,13.9,13.95,14.0,14.05,14.1,14.15,14.2,14.25,14.3,14.35,14.4,14.45,14.5,14.55,14.6,14.65,14.7], "labelExpr": "abs(datum.value*4-round(datum.value*4))<0.01 ? format(datum.value,'.2f') : ''", "tickSize": {"condition": {"test": "abs(datum.value*4-round(datum.value*4))<0.01", "value": 6}, "value": 3.5}, "labelFontSize": 10.5, "labelPadding": 3}},
           "y": {"field": "v", "type": "quantitative", "scale": {"domain": [0, 1.105], "nice": false},
                 "axis": {"title": null, "values": [0,0.05,0.1,0.15,0.2,0.25,0.3,0.35,0.4,0.45,0.5,0.55,0.6,0.65,0.7,0.75,0.8,0.85,0.9,0.95,1.0,1.05,1.1], "labelExpr": "abs(datum.value*4-round(datum.value*4))<0.01 ? format(datum.value,'.2f') : ''", "tickSize": {"condition": {"test": "abs(datum.value*4-round(datum.value*4))<0.01", "value": 5}, "value": 3}, "labelFontSize": 12.5, "labelPadding": 1}},
           "color": {"field": "ion", "type": "nominal", "scale": {"domain": ["k","m","b"], "range": ["#000000","#ff00ff","#0000ff"]}, "legend": null}
         }},
        {"data": {"values": [{"label": "(x1,000,000)"}]}, "mark": {"type": "text", "align": "left", "baseline": "middle", "font": "Liberation Sans, Arial, sans-serif", "fontSize": 10.3, "color": "#000000"}, "encoding": {"x": {"datum": 13.717, "type": "quantitative", "axis": null}, "y": {"datum": 1.128, "type": "quantitative", "axis": null}, "text": {"field": "label"}}},
        {"data": {"values": [{"label": "60.00>42.00"}]}, "mark": {"type": "text", "align": "left", "baseline": "middle", "font": "Liberation Sans, Arial, sans-serif", "fontSize": 10.5, "color": "#000000"}, "encoding": {"x": {"datum": 13.835, "type": "quantitative", "axis": null}, "y": {"datum": 1.055, "type": "quantitative", "axis": null}, "text": {"field": "label"}}},
        {"data": {"values": [{"label": "73.00>55.00"}]}, "mark": {"type": "text", "align": "left", "baseline": "middle", "font": "Liberation Sans, Arial, sans-serif", "fontSize": 10.5, "color": "#ff00ff"}, "encoding": {"x": {"datum": 13.835, "type": "quantitative", "axis": null}, "y": {"datum": 0.965, "type": "quantitative", "axis": null}, "text": {"field": "label"}}},
        {"data": {"values": [{"label": "60.00>45.00"}]}, "mark": {"type": "text", "align": "left", "baseline": "middle", "font": "Liberation Sans, Arial, sans-serif", "fontSize": 10.5, "color": "#0000ff"}, "encoding": {"x": {"datum": 13.835, "type": "quantitative", "axis": null}, "y": {"datum": 0.88, "type": "quantitative", "axis": null}, "text": {"field": "label"}}},
        {"data": {"values": [{"label": ["Normal", "Product"]}]}, "mark": {"type": "text", "align": "center", "baseline": "alphabetic", "font": "Liberation Sans, Arial, sans-serif", "fontSize": 21.5, "lineHeight": 23, "color": "#000000"}, "encoding": {"x": {"datum": 14.585, "type": "quantitative", "axis": null}, "y": {"datum": 0.91, "type": "quantitative", "axis": null}, "text": {"field": "label"}}},
        {"data": {"values": [{"label": "Butyric Acid"}]}, "mark": {"type": "text", "align": "center", "baseline": "alphabetic", "font": "Liberation Sans, Arial, sans-serif", "fontSize": 21.5, "color": "#000000"}, "encoding": {"x": {"datum": 14.255, "type": "quantitative", "axis": null}, "y": {"datum": -0.329, "type": "quantitative", "axis": null}, "text": {"field": "label"}}}
      ]
    }
  ]
}
